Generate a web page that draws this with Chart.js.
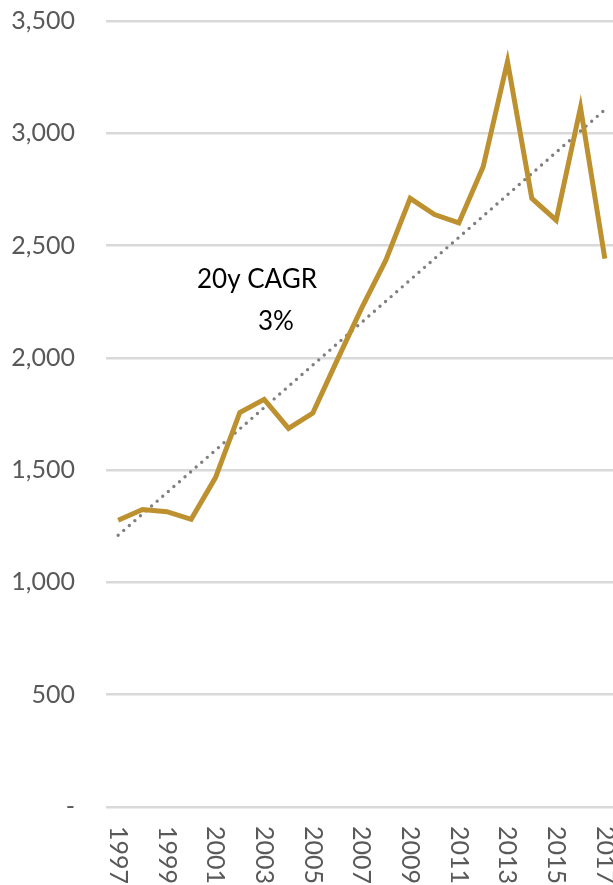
<!DOCTYPE html>
<html>
<head>
<meta charset="utf-8">
<script src="https://cdn.jsdelivr.net/npm/chart.js@4/dist/chart.umd.min.js"></script>
<style>
  html, body { margin: 0; padding: 0; background: #fff; overflow: hidden; }
  #wrap { width: 620px; height: 885px; }
</style>
</head>
<body>
<div id="wrap"><canvas id="chart"></canvas></div>
<script>
// data
const years = ['1997','1998','1999','2000','2001','2002','2003','2004','2005','2006','2007',
  '2008','2009','2010','2011','2012','2013','2014','2015','2016','2017'];
const values = [1277, 1325, 1315, 1281, 1467, 1757, 1815, 1686, 1754, 1990, 2220,
  2435, 2710, 2638, 2601, 2851, 3320, 2710, 2613, 3115, 2442];
// linear trend, only its two ends
const trendYears = ['1997', '2017'];
const trendValues = [1210, 3105];
const yTicks = [0, 500, 1000, 1500, 2000, 2500, 3000, 3500];
const noteLines = ['20y CAGR', '3%'];

const FONT = 'Lato, "Noto Sans", sans-serif';
const GOLD = '#BD912F';

// x labels read top to bottom, so draw them by hand
const xLabelPlugin = {
  id: 'xLabels',
  afterDraw(chart) {
    const ctx = chart.ctx;
    const x = chart.scales.x;
    ctx.save();
    ctx.font = '25px ' + FONT;
    ctx.fillStyle = '#595959';
    ctx.textAlign = 'left';
    ctx.textBaseline = 'middle';
    years.forEach((yr, i) => {
      if (i % 2 !== 0) return;
      ctx.save();
      ctx.translate(x.getPixelForValue(i), chart.chartArea.bottom + 19);
      ctx.rotate(Math.PI / 2);
      ctx.fillText(yr, 0, 0);
      ctx.restore();
    });
    ctx.restore();
  }
};

const notePlugin = {
  id: 'note',
  afterDraw(chart) {
    const ctx = chart.ctx;
    ctx.save();
    ctx.font = '26px ' + FONT;
    ctx.fillStyle = '#000';
    ctx.textAlign = 'center';
    ctx.textBaseline = 'alphabetic';
    ctx.fillText(noteLines[0], 257, 288);
    ctx.fillText(noteLines[1], 276, 330);
    ctx.restore();
  }
};

new Chart(document.getElementById('chart'), {
  type: 'line',
  data: {
    labels: years,
    datasets: [
      {
        label: 'Trend',
        data: trendYears.map((y, i) => ({ x: y, y: trendValues[i] })),
        borderColor: '#7F7F7F',
        borderWidth: 3.4,
        borderDash: [0, 7.4],
        borderCapStyle: 'round',
        pointRadius: 0,
        fill: false,
        order: 2
      },
      {
        label: 'Value',
        data: values,
        borderColor: GOLD,
        borderWidth: 5,
        borderJoinStyle: 'miter',
        pointRadius: 0,
        tension: 0,
        fill: false,
        order: 1
      }
    ]
  },
  options: {
    responsive: true,
    maintainAspectRatio: false,
    animation: false,
    layout: { padding: { top: 21, right: 3, left: 0, bottom: 0 } },
    plugins: {
      legend: { display: false },
      tooltip: { enabled: false }
    },
    scales: {
      x: {
        offset: true,
        grid: { display: false },
        border: { display: false },
        ticks: { display: false },
        afterFit: (s) => { s.height = 78; s.paddingLeft = 0; s.paddingRight = 0; }
      },
      y: {
        min: 0,
        max: 3500,
        afterBuildTicks: (s) => { s.ticks = yTicks.map(v => ({ value: v })); },
        afterFit: (s) => { s.width = 106; s.paddingTop = 0; s.paddingBottom = 0; },
        grid: { color: '#D9D9D9', lineWidth: 2.5, drawTicks: false },
        border: { display: false },
        ticks: {
          padding: 31,
          color: '#595959',
          font: { family: FONT, size: 25 },
          callback: (v) => v === 0 ? '-' : v.toLocaleString('en-US')
        }
      }
    }
  },
  plugins: [xLabelPlugin, notePlugin]
});
</script>
</body>
</html>
